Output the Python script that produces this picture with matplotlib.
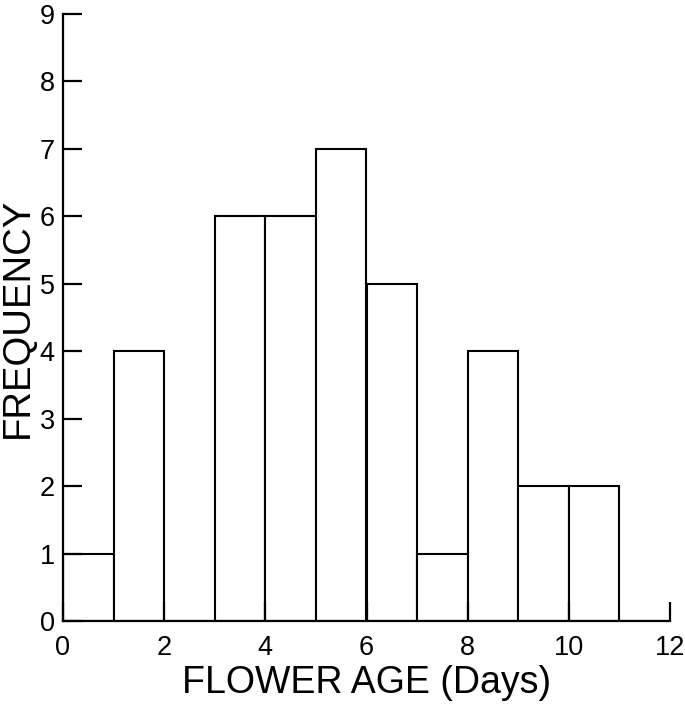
import matplotlib
matplotlib.use("Agg")
import matplotlib.pyplot as plt

plt.rcParams['font.family'] = ['Liberation Sans', 'DejaVu Sans']

# histogram of flower age, 1-day bins
bin_left = [0, 1, 2, 3, 4, 5, 6, 7, 8, 9, 10, 11]
counts = [1, 4, 0, 6, 6, 7, 5, 1, 4, 2, 2, 0]

fig = plt.figure(figsize=(6.85, 7.08), dpi=100)
ax = fig.add_axes([63/685, 1 - 621/708, (670-63)/685, (621-14)/708])

ax.bar(bin_left, counts, width=1, align="edge", facecolor="white",
       edgecolor="black", linewidth=1.5)

ax.set_xlim(0, 12)
ax.set_ylim(0, 9)
ax.set_xticks(range(0, 13, 2))
ax.set_yticks(range(0, 10))
for s in ["top", "right"]:
    ax.spines[s].set_visible(False)
for s in ["left", "bottom"]:
    ax.spines[s].set_linewidth(1.6)
    ax.spines[s].set_clip_on(False)
ax.tick_params(axis="both", direction="in", length=14, width=1.6, labelsize=19.5)
ax.tick_params(axis="y", pad=6)
ax.tick_params(axis="x", pad=10)
ax.xaxis.set_ticks_position("bottom")
ax.yaxis.set_ticks_position("left")

ax.set_xlabel("FLOWER AGE (Days)", fontsize=27, labelpad=3)
ax.set_ylabel("FREQUENCY", fontsize=27.5)
ax.yaxis.set_label_coords(-27/607, 0.5)

fig.savefig("out.png", dpi=100)
